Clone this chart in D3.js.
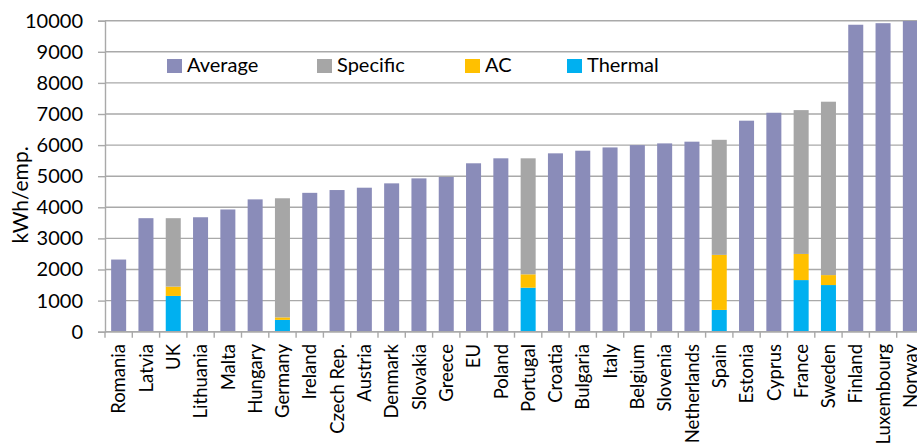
<!DOCTYPE html>
<html>
<head>
<meta charset="utf-8">
<script src="https://cdn.jsdelivr.net/npm/d3@7"></script>
<style>
  html, body { margin: 0; padding: 0; background: #fff; }
  svg { display: block; font-family: Lato, "Noto Sans", sans-serif; }
</style>
</head>
<body>
<svg id="chart" width="917" height="444"></svg>
<script>
const categories = ["Romania","Latvia","UK","Lithuania","Malta","Hungary","Germany","Ireland","Czech Rep.","Austria","Denmark","Slovakia","Greece","EU","Poland","Portugal","Croatia","Bulgaria","Italy","Belgium","Slovenia","Netherlands","Spain","Estonia","Cyprus","France","Sweden","Finland","Luxembourg","Norway"];
const average  = [2320,3650,0,3680,3930,4255,0,4465,4555,4630,4770,4930,4975,5415,5575,0,5735,5820,5925,6000,6055,6110,0,6785,7040,0,0,9870,9920,9990];
const thermal  = [0,0,1150,0,0,0,380,0,0,0,0,0,0,0,0,1415,0,0,0,0,0,0,700,0,0,1660,1500,0,0,0];
const ac       = [0,0,300,0,0,0,80,0,0,0,0,0,0,0,0,430,0,0,0,0,0,0,1770,0,0,840,320,0,0,0];
const specific = [0,0,2200,0,0,0,3830,0,0,0,0,0,0,0,0,3730,0,0,0,0,0,0,3700,0,0,4625,5575,0,0,0];
const yTicks = [0,1000,2000,3000,4000,5000,6000,7000,8000,9000,10000];
const seriesNames = ["Average","Specific","AC","Thermal"];
const colors = {Average:"#8a8cb9", Specific:"#a6a6a6", AC:"#ffc000", Thermal:"#00b0f0"};

const rows = categories.map((c,i)=>({cat:c, Average:average[i], Thermal:thermal[i], AC:ac[i], Specific:specific[i]}));

const svg = d3.select("#chart");
const mLeft = 105, mRight = 924, mTop = 20.7, mBottom = 331.7;

const x = d3.scaleBand().domain(categories).range([mLeft, mRight]).paddingInner(0.45).paddingOuter(0.225);
const y = d3.scaleLinear().domain([0, 10000]).range([mBottom, mTop]);

// gridlines
svg.append("g").selectAll("line").data(yTicks).join("line")
  .attr("x1", mLeft).attr("x2", 917)
  .attr("y1", d=>y(d)).attr("y2", d=>y(d))
  .attr("stroke", "#a9a9a9").attr("stroke-width", 1.4);

// bars
const stack = d3.stack().keys(["Average","Thermal","AC","Specific"]);
const stacked = stack(rows);
svg.append("g").selectAll("g").data(stacked).join("g")
  .attr("fill", d=>colors[d.key])
  .selectAll("rect").data(d=>d.filter(v=>v[1]-v[0]>0)).join("rect")
  .attr("x", d=>x(d.data.cat))
  .attr("width", x.bandwidth())
  .attr("y", d=>y(d[1]))
  .attr("height", d=>y(d[0])-y(d[1]));

// y axis
const yAxis = svg.append("g").attr("transform", `translate(${mLeft},0)`)
  .call(d3.axisLeft(y).tickValues(yTicks).tickSize(7).tickPadding(15).tickFormat(d3.format("d")));
yAxis.select(".domain").attr("stroke", "#a9a9a9").attr("stroke-width", 1.4);
yAxis.selectAll(".tick line").attr("stroke", "#a9a9a9").attr("stroke-width", 1.4);
yAxis.selectAll("text").attr("font-size", 20).attr("fill", "#000").attr("font-family", "Lato, sans-serif");

// x axis line
svg.append("line").attr("x1", mLeft).attr("x2", 917).attr("y1", y(0)).attr("y2", y(0))
  .attr("stroke", "#a9a9a9").attr("stroke-width", 1.4);
// boundary ticks
const bounds = categories.map(c => x(c) - x.step()*x.paddingInner()/2).concat([x(categories[categories.length-1]) + x.bandwidth() + x.step()*x.paddingInner()/2]);
svg.append("g").selectAll("line").data(bounds).join("line")
  .attr("x1", d=>d).attr("x2", d=>d).attr("y1", y(0)).attr("y2", y(0)+6)
  .attr("stroke", "#a9a9a9").attr("stroke-width", 1.4);

// category labels
svg.append("g").selectAll("text").data(categories).join("text")
  .attr("transform", d=>`translate(${x(d)+x.bandwidth()/2},344) rotate(-90)`)
  .attr("text-anchor", "end").attr("dy", "0.36em")
  .attr("font-size", 18.5).attr("fill", "#000")
  .text(d=>d);

// y title
svg.append("text").attr("transform", "translate(20,195) rotate(-90)")
  .attr("text-anchor", "middle").attr("dy", "0.36em")
  .attr("font-size", 21).attr("fill", "#000").text("kWh/emp.");

// legend
const legendX = [167, 317, 465, 567];
const lg = svg.append("g").selectAll("g").data(seriesNames).join("g")
  .attr("transform", (d,i)=>`translate(${legendX[i]},59)`);
lg.append("rect").attr("width", 15).attr("height", 14).attr("fill", d=>colors[d]);
lg.append("text").attr("x", 20).attr("y", 12.5).attr("font-size", 20).attr("fill", "#000").text(d=>d);
</script>
</body>
</html>
